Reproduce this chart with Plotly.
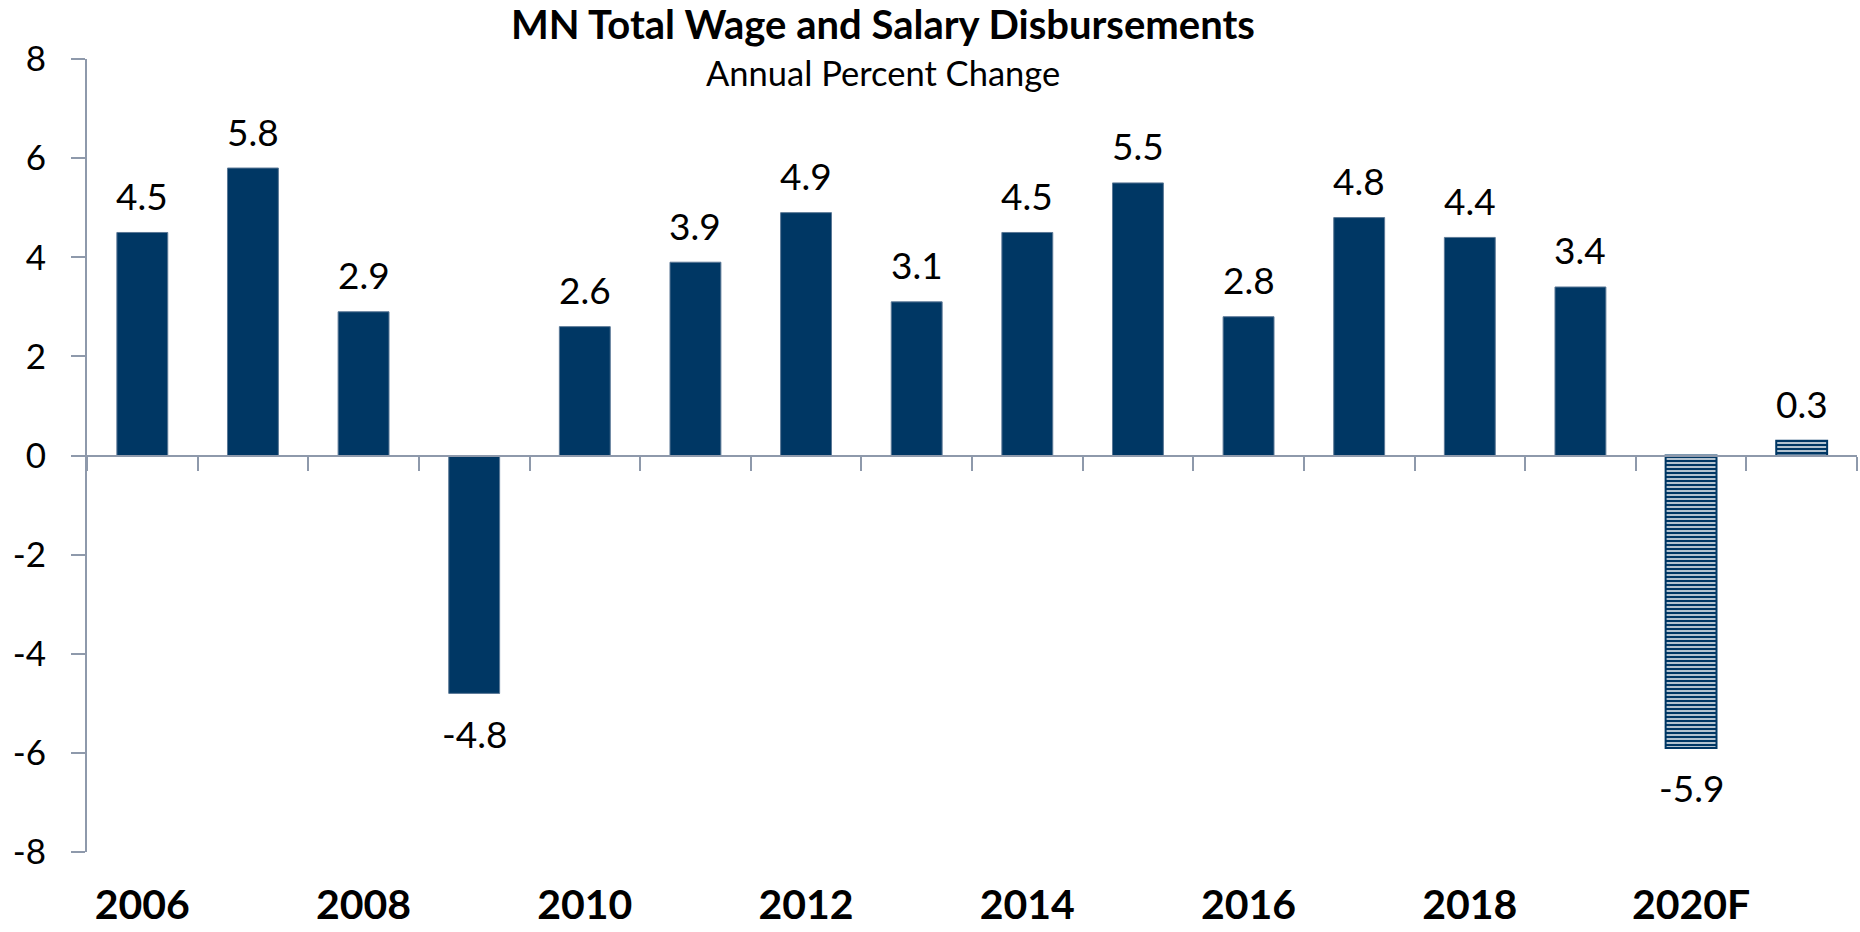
import plotly.graph_objects as go

# ---- data ----
actual_years = [2006, 2007, 2008, 2009, 2010, 2011, 2012, 2013, 2014, 2015, 2016, 2017, 2018, 2019]
actual_values = [4.5, 5.8, 2.9, -4.8, 2.6, 3.9, 4.9, 3.1, 4.5, 5.5, 2.8, 4.8, 4.4, 3.4]
forecast_years = [2020, 2021]
forecast_values = [-5.9, 0.3]
label_years = [2006, 2008, 2010, 2012, 2014, 2016, 2018, 2020]
label_text = ["2006", "2008", "2010", "2012", "2014", "2016", "2018", "2020F"]
y_ticks = [-8, -6, -4, -2, 0, 2, 4, 6, 8]

NAVY = "#003764"
AXIS = "#8E99AB"
FONT = "Lato"

all_years = actual_years + forecast_years
all_values = actual_values + forecast_values

fig = go.Figure()
fig.add_trace(go.Bar(
    x=actual_years, y=actual_values, width=0.46,
    marker=dict(color=NAVY, line=dict(color="#5B7896", width=1)),
    showlegend=False, hoverinfo="x+y",
))
fig.add_trace(go.Bar(
    x=forecast_years, y=forecast_values, width=0.46,
    marker=dict(color=NAVY, line=dict(color=NAVY, width=2),
                pattern=dict(shape="-", fgcolor=NAVY, bgcolor="white",
                             size=4, solidity=0.65, fillmode="replace")),
    showlegend=False, hoverinfo="x+y",
))

annotations = []
for yr, v in zip(all_years, all_values):
    annotations.append(dict(
        x=yr, y=v, xref="x", yref="y", text=f"{v:.1f}", showarrow=False,
        yanchor="middle", yshift=37 if v >= 0 else -40,
        font=dict(family=FONT, size=37, color="black"),
    ))

annotations.append(dict(
    x=0.4497, y=1.044, xref="paper", yref="paper", showarrow=False,
    text="<b>MN Total Wage and Salary Disbursements</b>",
    xanchor="center", yanchor="middle",
    font=dict(family=FONT, size=40, color="black"),
))
annotations.append(dict(
    x=0.4497, y=0.983, xref="paper", yref="paper", showarrow=False,
    text="Annual Percent Change",
    xanchor="center", yanchor="middle",
    font=dict(family=FONT, size=34.5, color="black"),
))

fig.update_layout(
    width=1860, height=932,
    margin=dict(l=87, r=3, t=59, b=80, autoexpand=False),
    plot_bgcolor="white", paper_bgcolor="white",
    barmode="overlay",
    annotations=annotations,
    xaxis=dict(
        range=[2005.5, 2021.5], anchor="free", position=0.5,
        showline=True, linecolor=AXIS, linewidth=2,
        ticks="outside", ticklen=14, tickcolor=AXIS, tickwidth=2,
        tickvals=[yr - 0.5 for yr in all_years] + [all_years[-1] + 0.5],
        showticklabels=False, showgrid=False, zeroline=False, automargin=False,
    ),
    xaxis2=dict(
        range=[2005.5, 2021.5], overlaying="x", anchor="free", position=0,
        side="bottom", showline=False, ticks="", showgrid=False, zeroline=False,
        tickvals=label_years, ticktext=label_text, ticklabelstandoff=25,
        automargin=False,
        tickfont=dict(family=FONT, size=41, color="black", weight="bold"),
    ),
    yaxis=dict(
        range=[-8, 8], tickvals=y_ticks, ticktext=[str(t) for t in y_ticks],
        showline=True, linecolor=AXIS, linewidth=2,
        ticks="outside", ticklen=14, tickcolor=AXIS, tickwidth=2,
        showgrid=False, zeroline=False, ticklabelstandoff=18, automargin=False,
        tickfont=dict(family=FONT, size=35, color="black"),
    ),
)
# invisible helper trace so that the label axis (xaxis2) is drawn
fig.add_trace(go.Scatter(x=label_years, y=[0] * len(label_years), xaxis="x2",
                         mode="markers", marker=dict(opacity=0), showlegend=False,
                         hoverinfo="skip"))

fig.write_html("out.html", config={"displayModeBar": False},
               post_script="document.body.style.margin='0px';")
